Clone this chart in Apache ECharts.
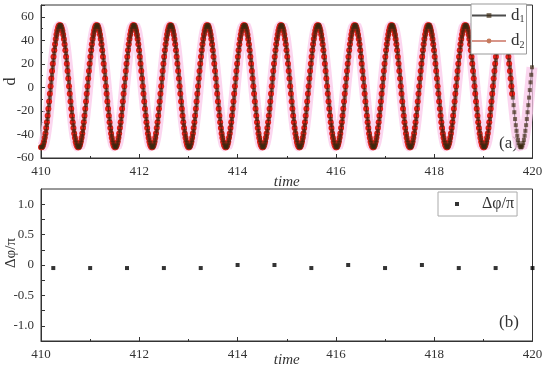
<!DOCTYPE html>
<html>
<head>
<meta charset="utf-8">
<script src="https://cdn.jsdelivr.net/npm/echarts@6/dist/echarts.min.js"></script>
<style>html,body{margin:0;padding:0;background:#fff}#c{width:550px;height:373px}</style>
</head>
<body>
<div id="c"></div>
<script>
// sampling grid of the top panel
const tStart = 410, tStep = 0.015;
// d1 values (one row = one oscillation)
const d1 = [
-50.6,-51,-50.6,-49.4,-47.3,-44.6,-41.1,-36.9,-32.1,-26.9,-21.1,-15.1,-8.7,-2.3,4.3,10.7,17.1,23.1,28.9,34.1,38.9,43.1,46.6,49.3,51.4,52.6,53,52.6,51.4,49.3,46.6,43.1,38.9,34.1,28.9,23.1,17.1,10.7,4.3,-2.3,-8.7,-15.1,-21.1,-26.9,-32.1,-36.9,-41.1,-44.6,-47.3,-49.4,
-50.6,-51,-50.6,-49.4,-47.3,-44.6,-41.1,-36.9,-32.1,-26.9,-21.1,-15.1,-8.7,-2.3,4.3,10.7,17.1,23.1,28.9,34.1,38.9,43.1,46.6,49.3,51.4,52.6,53,52.6,51.4,49.3,46.6,43.1,38.9,34.1,28.9,23.1,17.1,10.7,4.3,-2.3,-8.7,-15.1,-21.1,-26.9,-32.1,-36.9,-41.1,-44.6,-47.3,-49.4,
-50.6,-51,-50.6,-49.4,-47.3,-44.6,-41.1,-36.9,-32.1,-26.9,-21.1,-15.1,-8.7,-2.3,4.3,10.7,17.1,23.1,28.9,34.1,38.9,43.1,46.6,49.3,51.4,52.6,53,52.6,51.4,49.3,46.6,43.1,38.9,34.1,28.9,23.1,17.1,10.7,4.3,-2.3,-8.7,-15.1,-21.1,-26.9,-32.1,-36.9,-41.1,-44.6,-47.3,-49.4,
-50.6,-51,-50.6,-49.4,-47.3,-44.6,-41.1,-36.9,-32.1,-26.9,-21.1,-15.1,-8.7,-2.3,4.3,10.7,17.1,23.1,28.9,34.1,38.9,43.1,46.6,49.3,51.4,52.6,53,52.6,51.4,49.3,46.6,43.1,38.9,34.1,28.9,23.1,17.1,10.7,4.3,-2.3,-8.7,-15.1,-21.1,-26.9,-32.1,-36.9,-41.1,-44.6,-47.3,-49.4,
-50.6,-51,-50.6,-49.4,-47.3,-44.6,-41.1,-36.9,-32.1,-26.9,-21.1,-15.1,-8.7,-2.3,4.3,10.7,17.1,23.1,28.9,34.1,38.9,43.1,46.6,49.3,51.4,52.6,53,52.6,51.4,49.3,46.6,43.1,38.9,34.1,28.9,23.1,17.1,10.7,4.3,-2.3,-8.7,-15.1,-21.1,-26.9,-32.1,-36.9,-41.1,-44.6,-47.3,-49.4,
-50.6,-51,-50.6,-49.4,-47.3,-44.6,-41.1,-36.9,-32.1,-26.9,-21.1,-15.1,-8.7,-2.3,4.3,10.7,17.1,23.1,28.9,34.1,38.9,43.1,46.6,49.3,51.4,52.6,53,52.6,51.4,49.3,46.6,43.1,38.9,34.1,28.9,23.1,17.1,10.7,4.3,-2.3,-8.7,-15.1,-21.1,-26.9,-32.1,-36.9,-41.1,-44.6,-47.3,-49.4,
-50.6,-51,-50.6,-49.4,-47.3,-44.6,-41.1,-36.9,-32.1,-26.9,-21.1,-15.1,-8.7,-2.3,4.3,10.7,17.1,23.1,28.9,34.1,38.9,43.1,46.6,49.3,51.4,52.6,53,52.6,51.4,49.3,46.6,43.1,38.9,34.1,28.9,23.1,17.1,10.7,4.3,-2.3,-8.7,-15.1,-21.1,-26.9,-32.1,-36.9,-41.1,-44.6,-47.3,-49.4,
-50.6,-51,-50.6,-49.4,-47.3,-44.6,-41.1,-36.9,-32.1,-26.9,-21.1,-15.1,-8.7,-2.3,4.3,10.7,17.1,23.1,28.9,34.1,38.9,43.1,46.6,49.3,51.4,52.6,53,52.6,51.4,49.3,46.6,43.1,38.9,34.1,28.9,23.1,17.1,10.7,4.3,-2.3,-8.7,-15.1,-21.1,-26.9,-32.1,-36.9,-41.1,-44.6,-47.3,-49.4,
-50.6,-51,-50.6,-49.4,-47.3,-44.6,-41.1,-36.9,-32.1,-26.9,-21.1,-15.1,-8.7,-2.3,4.3,10.7,17.1,23.1,28.9,34.1,38.9,43.1,46.6,49.3,51.4,52.6,53,52.6,51.4,49.3,46.6,43.1,38.9,34.1,28.9,23.1,17.1,10.7,4.3,-2.3,-8.7,-15.1,-21.1,-26.9,-32.1,-36.9,-41.1,-44.6,-47.3,-49.4,
-50.6,-51,-50.6,-49.4,-47.3,-44.6,-41.1,-36.9,-32.1,-26.9,-21.1,-15.1,-8.7,-2.3,4.3,10.7,17.1,23.1,28.9,34.1,38.9,43.1,46.6,49.3,51.4,52.6,53,52.6,51.4,49.3,46.6,43.1,38.9,34.1,28.9,23.1,17.1,10.7,4.3,-2.3,-8.7,-15.1,-21.1,-26.9,-32.1,-36.9,-41.1,-44.6,-47.3,-49.4,
-50.6,-51,-50.6,-49.4,-47.3,-44.6,-41.1,-36.9,-32.1,-26.9,-21.1,-15.1,-8.7,-2.3,4.3,10.7,17.1,23.1,28.9,34.1,38.9,43.1,46.6,49.3,51.4,52.6,53,52.6,51.4,49.3,46.6,43.1,38.9,34.1,28.9,23.1,17.1,10.7,4.3,-2.3,-8.7,-15.1,-21.1,-26.9,-32.1,-36.9,-41.1,-44.6,-47.3,-49.4,
-50.6,-51,-50.6,-49.4,-47.3,-44.6,-41.1,-36.9,-32.1,-26.9,-21.1,-15.1,-8.7,-2.3,4.3,10.7,17.1,23.1,28.9,34.1,38.9,43.1,46.6,49.3,51.4,52.6,53,52.6,51.4,49.3,46.6,43.1,38.9,34.1,28.9,23.1,17.1,10.7,4.3,-2.3,-8.7,-15.1,-21.1,-26.9,-32.1,-36.9,-41.1,-44.6,-47.3,-49.4,
-50.6,-51,-50.6,-49.4,-47.3,-44.6,-41.1,-36.9,-32.1,-26.9,-21.1,-15.1,-8.7,-2.3,4.3,10.7,17.1,23.1,28.9,34.1,38.9,43.1,46.6,49.3,51.4,52.6,53,52.6,51.4,49.3,46.6,43.1,38.9,34.1,28.9,23.1,17.1,10.7,4.3,-2.3,-8.7,-15.1,-21.1,-26.9,-32.1,-36.9,-41.1,-44.6,-47.3,-49.4,
-50.6,-51,-50.6,-49.4,-47.3,-44.6,-41.1,-36.9,-32.1,-26.9,-21.1,-15.1,-8.7,-2.3,4.3,10.7,17.1
];
// d2 values
const d2 = [
-50.9,-50.9,-50.1,-48.5,-46.1,-42.9,-39.1,-34.6,-29.6,-24.1,-18.1,-11.9,-5.5,1,7.5,13.9,20.1,26.1,31.6,36.6,41.1,44.9,48.1,50.5,52.1,52.9,52.9,52.1,50.5,48.1,44.9,41.1,36.6,31.6,26.1,20.1,13.9,7.5,1,-5.5,-11.9,-18.1,-24.1,-29.6,-34.6,-39.1,-42.9,-46.1,-48.5,-50.1,
-50.9,-50.9,-50.1,-48.5,-46.1,-42.9,-39.1,-34.6,-29.6,-24.1,-18.1,-11.9,-5.5,1,7.5,13.9,20.1,26.1,31.6,36.6,41.1,44.9,48.1,50.5,52.1,52.9,52.9,52.1,50.5,48.1,44.9,41.1,36.6,31.6,26.1,20.1,13.9,7.5,1,-5.5,-11.9,-18.1,-24.1,-29.6,-34.6,-39.1,-42.9,-46.1,-48.5,-50.1,
-50.9,-50.9,-50.1,-48.5,-46.1,-42.9,-39.1,-34.6,-29.6,-24.1,-18.1,-11.9,-5.5,1,7.5,13.9,20.1,26.1,31.6,36.6,41.1,44.9,48.1,50.5,52.1,52.9,52.9,52.1,50.5,48.1,44.9,41.1,36.6,31.6,26.1,20.1,13.9,7.5,1,-5.5,-11.9,-18.1,-24.1,-29.6,-34.6,-39.1,-42.9,-46.1,-48.5,-50.1,
-50.9,-50.9,-50.1,-48.5,-46.1,-42.9,-39.1,-34.6,-29.6,-24.1,-18.1,-11.9,-5.5,1,7.5,13.9,20.1,26.1,31.6,36.6,41.1,44.9,48.1,50.5,52.1,52.9,52.9,52.1,50.5,48.1,44.9,41.1,36.6,31.6,26.1,20.1,13.9,7.5,1,-5.5,-11.9,-18.1,-24.1,-29.6,-34.6,-39.1,-42.9,-46.1,-48.5,-50.1,
-50.9,-50.9,-50.1,-48.5,-46.1,-42.9,-39.1,-34.6,-29.6,-24.1,-18.1,-11.9,-5.5,1,7.5,13.9,20.1,26.1,31.6,36.6,41.1,44.9,48.1,50.5,52.1,52.9,52.9,52.1,50.5,48.1,44.9,41.1,36.6,31.6,26.1,20.1,13.9,7.5,1,-5.5,-11.9,-18.1,-24.1,-29.6,-34.6,-39.1,-42.9,-46.1,-48.5,-50.1,
-50.9,-50.9,-50.1,-48.5,-46.1,-42.9,-39.1,-34.6,-29.6,-24.1,-18.1,-11.9,-5.5,1,7.5,13.9,20.1,26.1,31.6,36.6,41.1,44.9,48.1,50.5,52.1,52.9,52.9,52.1,50.5,48.1,44.9,41.1,36.6,31.6,26.1,20.1,13.9,7.5,1,-5.5,-11.9,-18.1,-24.1,-29.6,-34.6,-39.1,-42.9,-46.1,-48.5,-50.1,
-50.9,-50.9,-50.1,-48.5,-46.1,-42.9,-39.1,-34.6,-29.6,-24.1,-18.1,-11.9,-5.5,1,7.5,13.9,20.1,26.1,31.6,36.6,41.1,44.9,48.1,50.5,52.1,52.9,52.9,52.1,50.5,48.1,44.9,41.1,36.6,31.6,26.1,20.1,13.9,7.5,1,-5.5,-11.9,-18.1,-24.1,-29.6,-34.6,-39.1,-42.9,-46.1,-48.5,-50.1,
-50.9,-50.9,-50.1,-48.5,-46.1,-42.9,-39.1,-34.6,-29.6,-24.1,-18.1,-11.9,-5.5,1,7.5,13.9,20.1,26.1,31.6,36.6,41.1,44.9,48.1,50.5,52.1,52.9,52.9,52.1,50.5,48.1,44.9,41.1,36.6,31.6,26.1,20.1,13.9,7.5,1,-5.5,-11.9,-18.1,-24.1,-29.6,-34.6,-39.1,-42.9,-46.1,-48.5,-50.1,
-50.9,-50.9,-50.1,-48.5,-46.1,-42.9,-39.1,-34.6,-29.6,-24.1,-18.1,-11.9,-5.5,1,7.5,13.9,20.1,26.1,31.6,36.6,41.1,44.9,48.1,50.5,52.1,52.9,52.9,52.1,50.5,48.1,44.9,41.1,36.6,31.6,26.1,20.1,13.9,7.5,1,-5.5,-11.9,-18.1,-24.1,-29.6,-34.6,-39.1,-42.9,-46.1,-48.5,-50.1,
-50.9,-50.9,-50.1,-48.5,-46.1,-42.9,-39.1,-34.6,-29.6,-24.1,-18.1,-11.9,-5.5,1,7.5,13.9,20.1,26.1,31.6,36.6,41.1,44.9,48.1,50.5,52.1,52.9,52.9,52.1,50.5,48.1,44.9,41.1,36.6,31.6,26.1,20.1,13.9,7.5,1,-5.5,-11.9,-18.1,-24.1,-29.6,-34.6,-39.1,-42.9,-46.1,-48.5,-50.1,
-50.9,-50.9,-50.1,-48.5,-46.1,-42.9,-39.1,-34.6,-29.6,-24.1,-18.1,-11.9,-5.5,1,7.5,13.9,20.1,26.1,31.6,36.6,41.1,44.9,48.1,50.5,52.1,52.9,52.9,52.1,50.5,48.1,44.9,41.1,36.6,31.6,26.1,20.1,13.9,7.5,1,-5.5,-11.9,-18.1,-24.1,-29.6,-34.6,-39.1,-42.9,-46.1,-48.5,-50.1,
-50.9,-50.9,-50.1,-48.5,-46.1,-42.9,-39.1,-34.6,-29.6,-24.1,-18.1,-11.9,-5.5,1,7.5,13.9,20.1,26.1,31.6,36.6,41.1,44.9,48.1,50.5,52.1,52.9,52.9,52.1,50.5,48.1,44.9,41.1,36.6,31.6,26.1,20.1,13.9,7.5,1,-5.5,-11.9,-18.1,-24.1,-29.6,-34.6,-39.1,-42.9,-46.1,-48.5,-50.1,
-50.9,-50.9,-50.1,-48.5,-46.1,-42.9,-39.1,-34.6,-29.6,-24.1,-18.1,-11.9,-5.5,1,7.5,13.9,20.1,26.1,31.6,36.6,41.1,44.9,48.1,50.5,52.1,52.9,52.9,52.1,50.5,48.1,44.9,41.1,36.6,31.6,26.1,20.1,13.9,7.5,1,-5.5
];
// bottom panel: phase difference
const phaseTime = [410.25, 411.0, 411.75, 412.5, 413.25, 414.0, 414.75, 415.5, 416.25, 417.0, 417.75, 418.5, 419.25, 420.0];
const phaseDiff = [-0.05, -0.05, -0.05, -0.05, -0.05, 0, 0, -0.05, 0, -0.05, 0, -0.05, -0.05, -0.05];
const timeTicks = [410, 412, 414, 416, 418, 420];
const dTicks = [-60, -40, -20, 0, 20, 40, 60];

const toPairs = arr => arr.map((v, i) => [+(tStart + i * tStep).toFixed(4), v]);
const d1Data = toPairs(d1);
const d2Data = toPairs(d2);
const phaseData = phaseTime.map((t, i) => [t, phaseDiff[i]]);

const serif = "'Liberation Serif', 'DejaVu Serif', serif";
const axisColor = '#333';
const left = 41, right = 17.5;

function xAxisCfg(gi, gap) {
  return {
    type: 'value', gridIndex: gi, min: timeTicks[0], max: timeTicks[timeTicks.length - 1], interval: 2,
    name: 'time', nameLocation: 'middle', nameGap: gap, nameMoveOverlap: false,
    nameTextStyle: { fontFamily: serif, fontStyle: 'italic', fontSize: 15, color: '#333' },
    axisLine: { onZero: false, lineStyle: { color: axisColor } },
    axisTick: { inside: true, length: 4, lineStyle: { color: axisColor } },
    minorTick: { show: true, splitNumber: 2, length: 2, lineStyle: { color: axisColor } },
    splitLine: { show: false },
    axisLabel: { fontFamily: serif, fontSize: 13, color: '#333', margin: 7 }
  };
}

const option = {
  animation: false,
  backgroundColor: '#fff',
  grid: [
    { left: left, right: right, top: 5, height: 153, show: true, borderColor: axisColor, borderWidth: 1, outerBoundsMode: 'none', containLabel: false },
    { left: left, right: right, top: 189, height: 152, show: true, borderColor: axisColor, borderWidth: 1, outerBoundsMode: 'none', containLabel: false }
  ],
  xAxis: [ xAxisCfg(0, 17), xAxisCfg(1, 12) ],
  yAxis: [
    {
      type: 'value', gridIndex: 0, min: dTicks[0], max: 70, interval: 20,
      name: 'd', nameLocation: 'middle', nameGap: 22, nameMoveOverlap: false,
      nameTextStyle: { fontFamily: serif, fontSize: 16, color: '#333' },
      axisLine: { show: true, onZero: false, lineStyle: { color: axisColor } },
      axisTick: { inside: true, length: 4, lineStyle: { color: axisColor } },
      minorTick: { show: true, splitNumber: 2, length: 2, lineStyle: { color: axisColor } },
      splitLine: { show: false },
      axisLabel: { fontFamily: serif, fontSize: 13, color: '#333', margin: 7, showMaxLabel: false,
        formatter: v => dTicks.indexOf(v) >= 0 ? String(v) : '' }
    },
    {
      type: 'value', gridIndex: 1, min: -1.25, max: 1.25, interval: 0.25,
      name: 'Δφ/π', nameLocation: 'middle', nameGap: 22, nameMoveOverlap: false,
      nameTextStyle: { fontFamily: serif, fontSize: 15, color: '#333', padding: [0, 0, 0, 24] },
      axisLine: { show: true, onZero: false, lineStyle: { color: axisColor } },
      axisTick: { inside: true, length: 4, lineStyle: { color: axisColor } },
      splitLine: { show: false },
      axisLabel: { fontFamily: serif, fontSize: 13, color: '#333', margin: 7, showMaxLabel: false, showMinLabel: false,
        formatter: v => {
          const h = Math.round(v * 2);
          if (Math.abs(v * 2 - h) > 1e-6 || Math.abs(v) > 1.01) return '';
          return h === 0 ? '0' : v.toFixed(1);
        } }
    }
  ],
  legend: [
    {
      data: [
        { name: 'd1' },
        { name: 'd2', itemStyle: { color: '#c57a5c', opacity: 1 }, lineStyle: { color: '#d8968a', opacity: 1 } }
      ],
      orient: 'vertical', left: 471, top: 4, padding: [3, 2, 4, 0], itemWidth: 34, itemHeight: 6, itemGap: 8,
      backgroundColor: '#fff', borderColor: '#999', borderWidth: 1, borderRadius: 0,
      formatter: n => n === 'd1' ? '{a|d}{b|1}' : '{a|d}{b|2}',
      textStyle: {
        rich: {
          a: { fontFamily: serif, fontSize: 17, color: '#333' },
          b: { fontFamily: serif, fontSize: 10, color: '#333', padding: [8, 0, 0, 0] }
        }
      }
    },
    {
      data: [{ name: 'Δφ/π', icon: 'rect' }],
      left: 438, top: 192, padding: [4, 3, 4, 17], itemWidth: 4, itemHeight: 4,
      backgroundColor: '#fff', borderColor: '#aaa', borderWidth: 1, borderRadius: 0,
      textStyle: { fontFamily: serif, fontSize: 16, color: '#333', padding: [0, 0, 0, 18] }
    }
  ],
  graphic: [
    { type: 'text', left: 499, top: 135, style: { text: '(a)', font: "17px 'Liberation Serif', serif", fill: '#333' } },
    { type: 'text', left: 499, top: 314, style: { text: '(b)', font: "17px 'Liberation Serif', serif", fill: '#333' } }
  ],
  series: [
    {
      name: 'glow', type: 'line', xAxisIndex: 0, yAxisIndex: 0, data: d1Data, showSymbol: false, silent: true,
      lineStyle: { color: 'rgba(250,200,234,0.75)', width: 11 }, z: 1
    },
    {
      name: 'd2', type: 'line', xAxisIndex: 0, yAxisIndex: 0, data: d2Data,
      symbol: 'circle', symbolSize: 6, showSymbol: true, showAllSymbol: true,
      itemStyle: { color: '#e3211a' }, lineStyle: { color: '#c86050', width: 0.8 }, z: 2
    },
    {
      name: 'd1', type: 'line', xAxisIndex: 0, yAxisIndex: 0, data: d1Data,
      symbol: 'rect', symbolSize: 4, showSymbol: true, showAllSymbol: true,
      itemStyle: { color: '#3a2810', opacity: 0.65 }, lineStyle: { color: '#000', width: 0.6, opacity: 0.7 }, z: 3
    },
    {
      name: 'Δφ/π', type: 'scatter', xAxisIndex: 1, yAxisIndex: 1, data: phaseData,
      symbol: 'rect', symbolSize: 4, itemStyle: { color: '#000' }, clip: false
    }
  ]
};
echarts.init(document.getElementById('c'), null, { renderer: 'canvas' }).setOption(option);
</script>
</body>
</html>
